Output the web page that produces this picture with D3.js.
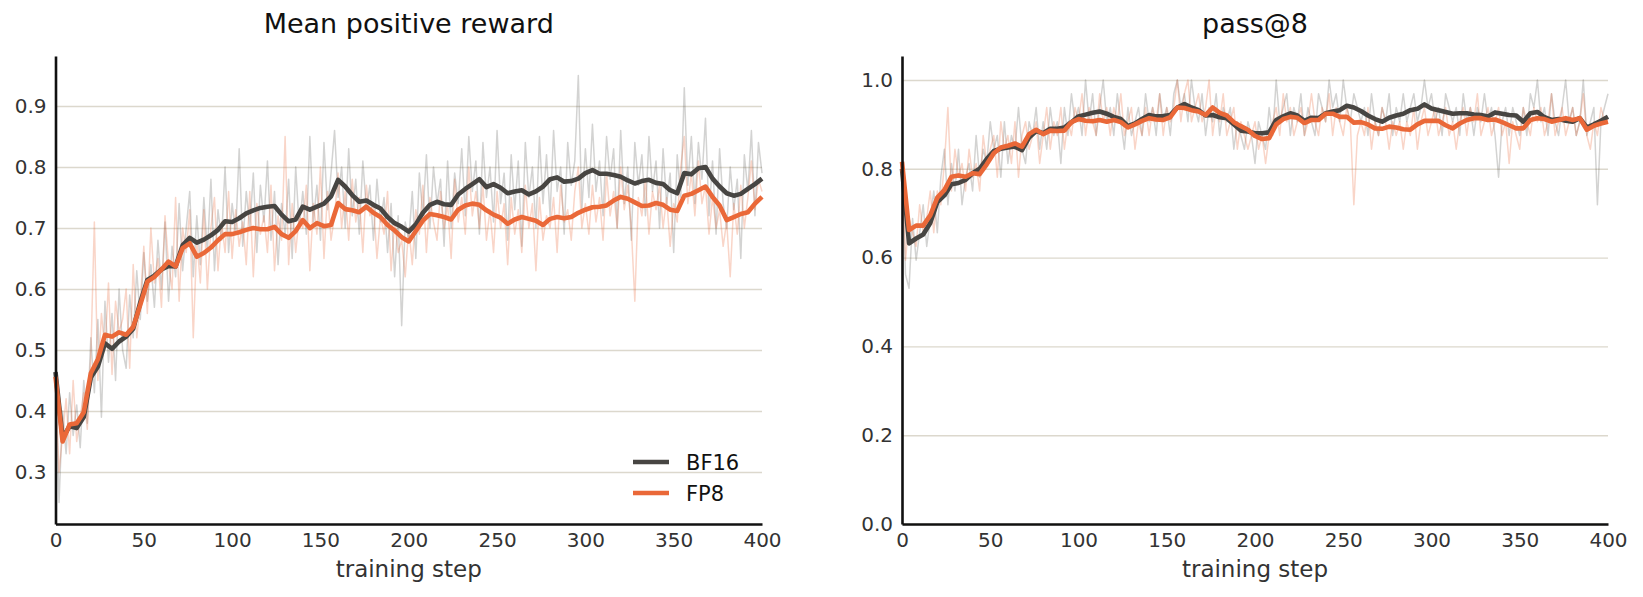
<!DOCTYPE html>
<html>
<head>
<meta charset="utf-8">
<script src="https://cdn.jsdelivr.net/npm/d3@7"></script>
<style>
  body { margin: 0; background: #fff; }
  text { font-family: "DejaVu Sans", sans-serif; }
</style>
</head>
<body>
<svg id="chart"></svg>
<script>
// ------------------------------------------------------------
// Two training curves: mean positive reward and pass@8,
// BF16 vs FP8. Thin faint lines = raw per step values,
// thick lines = smoothed curves.
// ------------------------------------------------------------

const W = 1643, H = 597;

// x positions: raw values every 2 steps, smoothed every 4 steps
const rawSteps = d3.range(0, 401, 2);
const smoothSteps = d3.range(0, 401, 4);

const seriesNames = ["BF16", "FP8"];
const seriesColors = ["#474542", "#ea6838"];

// Mean positive reward, raw
const rewardRawBF16 = [
  0.46, 0.25, 0.40, 0.33, 0.43, 0.36, 0.41, 0.34, 0.45, 0.38,
  0.52, 0.43, 0.55, 0.39, 0.58, 0.48, 0.56, 0.45, 0.60, 0.50,
  0.47, 0.59, 0.52, 0.63, 0.55, 0.66, 0.58, 0.64, 0.57, 0.68,
  0.60, 0.71, 0.58, 0.67, 0.62, 0.74, 0.63, 0.70, 0.76, 0.62,
  0.72, 0.64, 0.75, 0.66, 0.78, 0.63, 0.73, 0.68, 0.80, 0.66,
  0.74, 0.69, 0.83, 0.67, 0.76, 0.70, 0.79, 0.66, 0.77, 0.71,
  0.81, 0.68, 0.76, 0.64, 0.74, 0.69, 0.78, 0.65, 0.80, 0.70,
  0.76, 0.69, 0.85, 0.71, 0.77, 0.68, 0.84, 0.73, 0.79, 0.86,
  0.75, 0.80, 0.70, 0.83, 0.72, 0.78, 0.69, 0.81, 0.73, 0.77,
  0.68, 0.78, 0.71, 0.75, 0.66, 0.74, 0.62, 0.72, 0.54, 0.71,
  0.68, 0.76, 0.65, 0.79, 0.72, 0.82, 0.70, 0.80, 0.74, 0.78,
  0.67, 0.81, 0.70, 0.79, 0.74, 0.83, 0.72, 0.85, 0.76, 0.81,
  0.69, 0.84, 0.75, 0.80, 0.71, 0.86, 0.74, 0.79, 0.68, 0.82,
  0.73, 0.81, 0.67, 0.84, 0.75, 0.80, 0.70, 0.85, 0.74, 0.82,
  0.72, 0.86, 0.76, 0.80, 0.69, 0.84, 0.77, 0.81, 0.95, 0.73,
  0.83, 0.75, 0.87, 0.76, 0.81, 0.72, 0.85, 0.78, 0.83, 0.70,
  0.86, 0.74, 0.80, 0.68, 0.84, 0.77, 0.82, 0.72, 0.85, 0.76,
  0.81, 0.70, 0.83, 0.74, 0.79, 0.66, 0.82, 0.75, 0.93, 0.77,
  0.85, 0.74, 0.84, 0.78, 0.88, 0.72, 0.81, 0.69, 0.83, 0.74,
  0.70, 0.80, 0.73, 0.78, 0.65, 0.82, 0.76, 0.86, 0.72, 0.84,
  0.79
];
const rewardRawFP8 = [
  0.45, 0.30, 0.36, 0.42, 0.33, 0.45, 0.35, 0.39, 0.43, 0.37,
  0.49, 0.71, 0.45, 0.56, 0.50, 0.61, 0.46, 0.58, 0.53, 0.55,
  0.60, 0.47, 0.64, 0.52, 0.58, 0.67, 0.56, 0.70, 0.61, 0.65,
  0.57, 0.72, 0.64, 0.60, 0.75, 0.58, 0.70, 0.66, 0.73, 0.52,
  0.68, 0.61, 0.73, 0.60, 0.70, 0.75, 0.63, 0.71, 0.66, 0.76,
  0.65, 0.73, 0.67, 0.71, 0.64, 0.76, 0.62, 0.74, 0.69, 0.72,
  0.66, 0.77, 0.63, 0.72, 0.68, 0.85, 0.64, 0.74, 0.66, 0.72,
  0.70, 0.77, 0.63, 0.74, 0.69, 0.80, 0.65, 0.76, 0.68, 0.72,
  0.79, 0.70, 0.76, 0.68, 0.78, 0.71, 0.75, 0.66, 0.77, 0.72,
  0.74, 0.65, 0.72, 0.69, 0.76, 0.63, 0.71, 0.66, 0.68, 0.62,
  0.70, 0.64, 0.73, 0.69, 0.77, 0.66, 0.75, 0.71, 0.68, 0.76,
  0.70, 0.74, 0.65, 0.78, 0.71, 0.75, 0.69, 0.80, 0.72, 0.76,
  0.70, 0.77, 0.68, 0.73, 0.66, 0.76, 0.70, 0.74, 0.64, 0.75,
  0.69, 0.73, 0.66, 0.77, 0.70, 0.74, 0.63, 0.75, 0.68, 0.72,
  0.70, 0.75, 0.66, 0.77, 0.71, 0.73, 0.68, 0.76, 0.80, 0.70,
  0.74, 0.69, 0.77, 0.71, 0.75, 0.68, 0.79, 0.72, 0.76, 0.70,
  0.80, 0.73, 0.77, 0.70, 0.58, 0.75, 0.72, 0.78, 0.69, 0.76,
  0.73, 0.77, 0.70, 0.75, 0.67, 0.74, 0.71, 0.80, 0.85, 0.74,
  0.79, 0.72, 0.81, 0.74, 0.77, 0.69, 0.75, 0.70, 0.73, 0.67,
  0.71, 0.62, 0.74, 0.69, 0.77, 0.70, 0.75, 0.81, 0.73, 0.78,
  0.76
];

// Mean positive reward, smoothed
const rewardSmoothBF16 = [
  0.464, 0.356, 0.375, 0.372, 0.390, 0.455, 0.473, 0.511, 0.502, 0.514,
  0.522, 0.535, 0.578, 0.615, 0.622, 0.632, 0.638, 0.637, 0.672, 0.684,
  0.676, 0.681, 0.688, 0.697, 0.711, 0.710, 0.716, 0.724, 0.729, 0.733,
  0.735, 0.736, 0.722, 0.711, 0.714, 0.735, 0.730, 0.735, 0.740, 0.752,
  0.779, 0.768, 0.754, 0.743, 0.745, 0.738, 0.732, 0.718, 0.708, 0.702,
  0.694, 0.706, 0.725, 0.738, 0.743, 0.739, 0.738, 0.755, 0.764, 0.772,
  0.780, 0.767, 0.772, 0.766, 0.757, 0.760, 0.762, 0.755, 0.760, 0.768,
  0.780, 0.783, 0.776, 0.777, 0.781, 0.790, 0.795, 0.789, 0.789, 0.787,
  0.784, 0.778, 0.773, 0.777, 0.779, 0.774, 0.772, 0.762, 0.757, 0.790,
  0.788, 0.798, 0.800, 0.781, 0.768, 0.757, 0.753, 0.756, 0.764, 0.772,
  0.781
];
const rewardSmoothFP8 = [
  0.456, 0.350, 0.378, 0.380, 0.398, 0.462, 0.485, 0.525, 0.522, 0.529,
  0.525, 0.538, 0.574, 0.612, 0.620, 0.632, 0.645, 0.637, 0.667, 0.675,
  0.653, 0.659, 0.668, 0.680, 0.690, 0.690, 0.693, 0.697, 0.700, 0.698,
  0.698, 0.702, 0.690, 0.684, 0.695, 0.713, 0.700, 0.708, 0.703, 0.705,
  0.741, 0.731, 0.729, 0.726, 0.735, 0.725, 0.718, 0.705, 0.696, 0.685,
  0.678, 0.695, 0.712, 0.723, 0.721, 0.718, 0.714, 0.730, 0.737, 0.740,
  0.738, 0.729, 0.722, 0.717, 0.707, 0.714, 0.718, 0.715, 0.712, 0.705,
  0.715, 0.718, 0.716, 0.718, 0.725, 0.730, 0.734, 0.735, 0.737, 0.745,
  0.751, 0.748, 0.742, 0.736, 0.737, 0.741, 0.738, 0.730, 0.728, 0.753,
  0.756, 0.762, 0.768, 0.751, 0.737, 0.713, 0.718, 0.723, 0.726, 0.740,
  0.751
];

// pass@8, raw
const passRawBF16 = [
  0.812, 0.562, 0.531, 0.688, 0.594, 0.656, 0.719, 0.625, 0.688, 0.750,
  0.656, 0.781, 0.844, 0.719, 0.812, 0.750, 0.844, 0.719, 0.781, 0.812,
  0.750, 0.875, 0.781, 0.844, 0.812, 0.906, 0.844, 0.875, 0.781, 0.906,
  0.812, 0.875, 0.844, 0.938, 0.844, 0.812, 0.906, 0.875, 0.938, 0.844,
  0.906, 0.844, 0.938, 0.875, 0.906, 0.812, 0.938, 0.875, 0.969, 0.906,
  0.938, 0.875, 1.000, 0.906, 0.969, 0.875, 0.938, 1.000, 0.906, 0.938,
  0.875, 0.969, 0.906, 0.844, 0.938, 0.875, 0.906, 0.938, 0.875, 0.969,
  0.906, 0.938, 0.875, 0.969, 0.906, 0.938, 0.875, 0.969, 1.000, 0.938,
  0.969, 0.906, 1.000, 0.938, 0.906, 0.969, 0.875, 0.938, 0.906, 0.969,
  0.875, 0.938, 0.906, 0.938, 0.844, 0.906, 0.875, 0.844, 0.906, 0.875,
  0.812, 0.906, 0.875, 0.844, 0.938, 0.875, 1.000, 0.906, 0.938, 0.969,
  0.875, 0.938, 0.906, 0.969, 0.875, 0.938, 0.906, 0.875, 0.969, 0.938,
  0.906, 1.000, 0.938, 0.969, 0.906, 1.000, 0.938, 0.906, 0.969, 0.938,
  0.906, 0.938, 0.875, 0.969, 0.906, 0.875, 0.938, 0.906, 0.969, 0.875,
  0.938, 0.906, 0.969, 0.906, 0.938, 0.969, 0.906, 0.938, 1.000, 0.938,
  0.969, 0.906, 0.938, 0.875, 0.969, 0.938, 0.906, 0.938, 0.875, 0.969,
  0.906, 0.938, 0.875, 0.938, 0.906, 0.969, 0.906, 0.938, 0.875, 0.781,
  0.906, 0.938, 0.875, 0.938, 0.906, 0.875, 0.938, 0.875, 0.969, 0.938,
  1.000, 0.906, 0.938, 0.875, 0.969, 0.906, 0.875, 0.938, 1.000, 0.906,
  0.938, 0.875, 0.906, 1.000, 0.875, 0.906, 0.938, 0.719, 0.906, 0.938,
  0.969
];
const passRawFP8 = [
  0.812, 0.594, 0.688, 0.656, 0.625, 0.719, 0.656, 0.688, 0.750, 0.656,
  0.750, 0.719, 0.812, 0.938, 0.750, 0.844, 0.781, 0.812, 0.750, 0.844,
  0.781, 0.812, 0.750, 0.875, 0.812, 0.844, 0.875, 0.781, 0.906, 0.844,
  0.875, 0.812, 0.906, 0.781, 0.875, 0.906, 0.844, 0.875, 0.906, 0.812,
  0.875, 0.938, 0.844, 0.906, 0.875, 0.938, 0.844, 0.906, 0.875, 0.938,
  0.906, 0.969, 0.875, 0.938, 0.906, 0.875, 0.969, 0.906, 0.938, 0.875,
  0.938, 0.906, 0.969, 0.875, 0.906, 0.938, 0.844, 0.906, 0.875, 0.938,
  0.875, 0.938, 0.906, 0.969, 0.875, 0.938, 0.906, 0.938, 1.000, 0.906,
  0.969, 1.000, 0.906, 0.938, 0.969, 0.906, 0.938, 1.000, 0.875, 0.938,
  0.906, 0.969, 0.875, 0.906, 0.938, 0.844, 0.906, 0.875, 0.844, 0.875,
  0.906, 0.844, 0.875, 0.812, 0.875, 0.906, 0.938, 0.875, 0.969, 0.906,
  0.938, 0.875, 0.906, 0.938, 0.875, 0.906, 0.969, 0.906, 0.875, 0.938,
  0.906, 0.969, 0.875, 0.938, 0.906, 0.875, 0.938, 0.906, 0.719, 0.875,
  0.906, 0.875, 0.938, 0.844, 0.906, 0.875, 0.938, 0.906, 0.844, 0.906,
  0.875, 0.906, 0.844, 0.906, 0.875, 0.938, 0.844, 0.906, 0.938, 0.875,
  0.906, 0.938, 0.875, 0.906, 0.938, 0.875, 0.906, 0.844, 0.906, 0.938,
  0.875, 0.938, 0.906, 0.969, 0.875, 0.906, 0.938, 0.875, 0.906, 0.938,
  0.875, 0.906, 0.812, 0.906, 0.875, 0.844, 0.938, 0.906, 0.875, 0.938,
  0.906, 0.938, 0.875, 0.906, 0.969, 0.875, 0.906, 0.938, 0.875, 0.906,
  0.938, 0.875, 0.906, 0.969, 0.875, 0.844, 0.906, 0.875, 0.938, 0.906,
  0.906
];

// pass@8, smoothed
const passSmoothBF16 = [
  0.800, 0.632, 0.643, 0.652, 0.678, 0.725, 0.740, 0.765, 0.768, 0.775,
  0.790, 0.800, 0.822, 0.840, 0.845, 0.848, 0.850, 0.842, 0.870, 0.885,
  0.880, 0.890, 0.890, 0.893, 0.905, 0.918, 0.922, 0.926, 0.929, 0.924,
  0.917, 0.912, 0.896, 0.902, 0.912, 0.921, 0.918, 0.919, 0.921, 0.938,
  0.946, 0.938, 0.932, 0.920, 0.921, 0.916, 0.914, 0.900, 0.886, 0.884,
  0.880, 0.880, 0.882, 0.910, 0.918, 0.925, 0.920, 0.908, 0.915, 0.914,
  0.925, 0.929, 0.932, 0.942, 0.938, 0.930, 0.920, 0.912, 0.906, 0.915,
  0.920, 0.924, 0.932, 0.935, 0.945, 0.936, 0.932, 0.928, 0.924, 0.925,
  0.925, 0.922, 0.921, 0.918, 0.927, 0.924, 0.921, 0.920, 0.906, 0.925,
  0.928, 0.916, 0.910, 0.912, 0.908, 0.906, 0.914, 0.893, 0.900, 0.908,
  0.917
];
const passSmoothFP8 = [
  0.816, 0.662, 0.672, 0.672, 0.695, 0.735, 0.752, 0.782, 0.785, 0.782,
  0.790, 0.788, 0.810, 0.835, 0.848, 0.852, 0.857, 0.850, 0.878, 0.888,
  0.878, 0.886, 0.885, 0.886, 0.905, 0.912, 0.908, 0.907, 0.910, 0.906,
  0.910, 0.905, 0.893, 0.900, 0.908, 0.914, 0.911, 0.910, 0.916, 0.938,
  0.937, 0.932, 0.929, 0.921, 0.938, 0.926, 0.920, 0.905, 0.896, 0.888,
  0.874, 0.867, 0.869, 0.900, 0.912, 0.917, 0.915, 0.903, 0.910, 0.910,
  0.924, 0.924, 0.917, 0.917, 0.904, 0.905, 0.900, 0.891, 0.890, 0.895,
  0.893, 0.889, 0.888, 0.900, 0.908, 0.908, 0.908, 0.898, 0.891, 0.902,
  0.910, 0.914, 0.914, 0.910, 0.911, 0.905, 0.898, 0.891, 0.891, 0.910,
  0.914, 0.912, 0.906, 0.910, 0.914, 0.910, 0.914, 0.888, 0.897, 0.902,
  0.906
];

// Tick values for each panel
const xTicks = [0, 50, 100, 150, 200, 250, 300, 350, 400];
const rewardTicks = [0.3, 0.4, 0.5, 0.6, 0.7, 0.8, 0.9];
const passTicks = [0.0, 0.2, 0.4, 0.6, 0.8, 1.0];

const svg = d3.select("#chart")
  .attr("width", W)
  .attr("height", H);

// Draw one panel
function drawPanel(opts) {
  const x = d3.scaleLinear().domain([0, 400]).range([opts.x0, opts.x1]);
  const y = d3.scaleLinear().domain(opts.yDomain).range([524, 56]);
  const g = svg.append("g");

  // horizontal grid lines
  g.append("g")
    .attr("transform", `translate(${opts.x0},0)`)
    .call(d3.axisLeft(y).tickValues(opts.yTicks).tickSize(-(opts.x1 - opts.x0)).tickFormat(""))
    .call(a => a.select(".domain").remove())
    .call(a => a.selectAll("line").attr("stroke", "#dcd8cd").attr("stroke-width", 1.4));

  // raw lines first, faint
  const line = d3.line().x(d => x(d[0])).y(d => y(d[1]));
  opts.raw.forEach((vals, i) => {
    g.append("path")
      .datum(rawSteps.map((s, k) => [s, vals[k]]))
      .attr("fill", "none")
      .attr("stroke", seriesColors[i])
      .attr("stroke-opacity", i === 0 ? 0.24 : 0.28)
      .attr("stroke-width", 1.5)
      .attr("stroke-linejoin", "round")
      .attr("d", line);
  });

  // smoothed lines on top
  opts.smooth.forEach((vals, i) => {
    g.append("path")
      .datum(smoothSteps.map((s, k) => [s, vals[k]]))
      .attr("fill", "none")
      .attr("stroke", seriesColors[i])
      .attr("stroke-width", 4.6)
      .attr("stroke-linejoin", "round")
      .attr("d", line);
  });

  // y axis
  g.append("g")
    .attr("transform", `translate(${opts.x0},0)`)
    .call(d3.axisLeft(y).tickValues(opts.yTicks).tickSize(0).tickPadding(9).tickFormat(d3.format(".1f")))
    .call(a => a.select(".domain").attr("stroke", "#111").attr("stroke-width", 2.6))
    .call(a => a.selectAll("text")
      .attr("fill", "#333")
      .style("font-size", "20px")
      .style("font-family", "'DejaVu Sans', sans-serif"));

  // x axis
  g.append("g")
    .attr("transform", "translate(0,524)")
    .call(d3.axisBottom(x).tickValues(xTicks).tickSize(0).tickPadding(9))
    .call(a => a.select(".domain").attr("stroke", "#111").attr("stroke-width", 2.6))
    .call(a => a.selectAll("text")
      .attr("fill", "#333")
      .style("font-size", "20px")
      .style("font-family", "'DejaVu Sans', sans-serif"));

  // x axis label
  g.append("text")
    .attr("x", (opts.x0 + opts.x1) / 2)
    .attr("y", 577)
    .attr("text-anchor", "middle")
    .attr("fill", "#333")
    .style("font-size", "23px")
    .text("training step");

  // title
  g.append("text")
    .attr("x", (opts.x0 + opts.x1) / 2)
    .attr("y", 33)
    .attr("text-anchor", "middle")
    .attr("fill", "#111")
    .style("font-size", "27px")
    .text(opts.title);

  return { x, y, g };
}

drawPanel({
  title: "Mean positive reward",
  x0: 55.5, x1: 762,
  yDomain: [0.2148, 0.982],
  yTicks: rewardTicks,
  raw: [rewardRawBF16, rewardRawFP8],
  smooth: [rewardSmoothBF16, rewardSmoothFP8]
});

drawPanel({
  title: "pass@8",
  x0: 902, x1: 1608,
  yDomain: [0, 1.054],
  yTicks: passTicks,
  raw: [passRawBF16, passRawFP8],
  smooth: [passSmoothBF16, passSmoothFP8]
});

// legend in the lower right of the left panel
const legend = svg.append("g").attr("transform", "translate(633,462)");
seriesNames.forEach((name, i) => {
  const row = legend.append("g").attr("transform", `translate(0,${i * 31})`);
  row.append("line")
    .attr("x1", 0).attr("x2", 36)
    .attr("stroke", seriesColors[i])
    .attr("stroke-width", 4.6);
  row.append("text")
    .attr("x", 53)
    .attr("y", 8)
    .attr("fill", "#111")
    .style("font-size", "21px")
    .text(name);
});
</script>
</body>
</html>
